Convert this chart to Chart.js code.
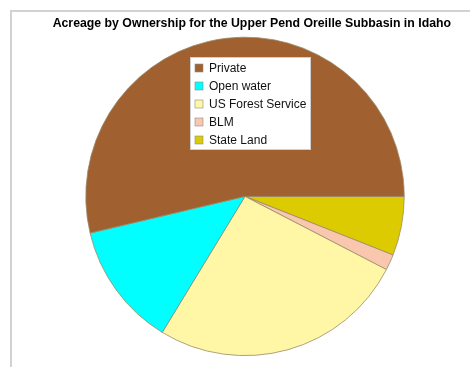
<!DOCTYPE html>
<html>
<head>
<meta charset="utf-8">
<script src="https://cdn.jsdelivr.net/npm/chart.js@4"></script>
<style>
    html, body { margin: 0; padding: 0; background: #fff; }
    #wrap { position: relative; width: 470px; height: 367px; }
</style>
</head>
<body>
<div id="wrap"><canvas id="pieChart"></canvas></div>
<script>
// Ownership categories, in legend order
const labels = ['Private', 'Open water', 'US Forest Service', 'BLM', 'State Land'];
// Share of acreage (percent)
const shares = [53.7, 12.6, 26.1, 1.6, 6.0];
const sliceColors = ['#a0602f', '#00ffff', '#fff6a6', '#f9c6ae', '#dccb00'];

const titleText = 'Acreage by Ownership for the Upper Pend Oreille Subbasin in Idaho';

// The slices run the other way round from the legend, so feed them reversed
const pieLabels = labels.slice().reverse();
const pieValues = shares.slice().reverse();
const pieColors = sliceColors.slice().reverse();

// Grey frame at top and left of the picture
const framePlugin = {
    id: 'frame',
    beforeDraw(chart) {
        const c = chart.ctx;
        c.save();
        c.fillStyle = '#fff';
        c.fillRect(0, 0, chart.width, chart.height);
        c.strokeStyle = '#d2d2d2';
        c.lineWidth = 2;
        c.beginPath();
        c.moveTo(11, chart.height);
        c.lineTo(11, 11);
        c.lineTo(chart.width, 11);
        c.stroke();
        c.restore();
    }
};

// Legend box drawn on top of the pie
const boxLegend = {
    id: 'boxLegend',
    afterDatasetsDraw(chart) {
        const c = chart.ctx;
        c.save();
        c.fillStyle = '#fff';
        c.fillRect(190, 57, 121, 93);
        c.strokeStyle = '#cfcfcf';
        c.lineWidth = 1;
        c.strokeRect(190.5, 57.5, 120, 92);
        c.font = '12px "Liberation Sans", Arial, sans-serif';
        c.textBaseline = 'middle';
        labels.forEach((label, i) => {
            const y = 68 + i * 18;
            c.fillStyle = sliceColors[i];
            c.fillRect(195, y - 4, 8, 8);
            c.strokeStyle = '#8c8c8c';
            c.lineWidth = 0.6;
            c.strokeRect(195, y - 4, 8, 8);
            c.fillStyle = '#111';
            c.fillText(label, 209, y + 0.5);
        });
        c.restore();
    }
};

const ctx = document.getElementById('pieChart').getContext('2d');
const chart = new Chart(ctx, {
    type: 'pie',
    data: {
        labels: pieLabels,
        datasets: [{
            data: pieValues,
            backgroundColor: pieColors,
            borderColor: '#9a8c6a',
            borderWidth: 0.8
        }]
    },
    options: {
        responsive: true,
        maintainAspectRatio: false,
        animation: false,
        rotation: 90,
        layout: {
            padding: {
                top: 0,
                right: 19,
                bottom: 11,
                left: 39
            }
        },
        plugins: {
            legend: { display: false },
            tooltip: { enabled: false },
            title: {
                display: true,
                text: titleText,
                align: 'end',
                color: '#000',
                font: {
                    family: '"Liberation Sans", Arial, sans-serif',
                    size: 12.3,
                    weight: 'bold'
                },
                padding: { top: 16, bottom: 6 }
            }
        }
    },
    plugins: [framePlugin, boxLegend]
});
</script>
</body>
</html>
